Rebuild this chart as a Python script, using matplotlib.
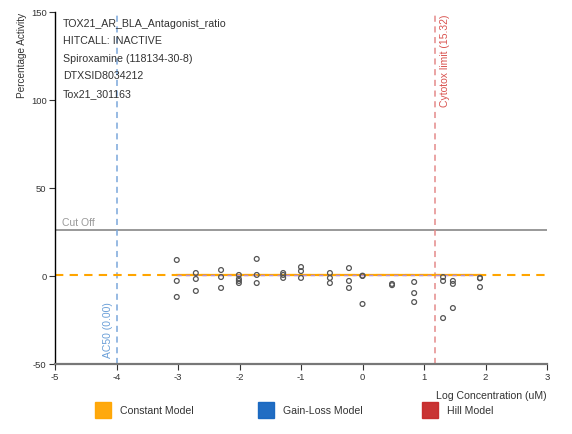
import matplotlib
matplotlib.use("Agg")
import matplotlib.pyplot as plt
from matplotlib.patches import Rectangle
import numpy as np

plt.rcParams['font.family'] = ['Liberation Sans', 'DejaVu Sans']
plt.rcParams['axes.unicode_minus'] = False

# ---- data ----
log_conc_groups = [-3.02, -2.71, -2.30, -2.01, -1.72, -1.29, -1.00, -0.53,
                   -0.22, 0.00, 0.48, 0.84, 1.31, 1.47, 1.91]
response_groups = [
    [9.1, -2.8, -11.9],
    [1.7, -1.7, -8.5],
    [3.4, -0.6, -6.8],
    [0.6, -1.7, -2.8, -4.0],
    [9.7, 0.6, -4.0],
    [1.7, 0.6, -1.1],
    [5.1, 2.8, -1.1],
    [1.7, -1.1, -4.0],
    [4.5, -2.8, -6.8],
    [0.2, 0.0, -15.9],
    [-4.5, -5.2],
    [-3.4, -9.7, -14.8],
    [-0.6, -2.8, -23.9],
    [-2.8, -4.5, -18.2],
    [-1.1, -1.3, -6.3],
]
constant_value = 0.4
cutoff_value = 26.3
ac50_log = -4.0
cytotox_uM = 15.32
x_ticks = [-5, -4, -3, -2, -1, 0, 1, 2, 3]
y_ticks = [-50, 0, 50, 100, 150]
info_lines = ["TOX21_AR_BLA_Antagonist_ratio", "HITCALL: INACTIVE",
              "Spiroxamine (118134-30-8)", "DTXSID8034212", "Tox21_301163"]
legend_labels = ["Constant Model", "Gain-Loss Model", "Hill Model"]
legend_colors = ["#FFA500", "#1565C0", "#C62828"]

xs = np.concatenate([[c] * len(r) for c, r in zip(log_conc_groups, response_groups)])
ys = np.concatenate([r for r in response_groups])

W, H = 572, 435
fig = plt.figure(figsize=(W / 100, H / 100), dpi=100)
ax = fig.add_axes([55 / W, 1 - 365 / H, (547 - 55) / W, (365 - 13) / H])
ax.set_xlim(-5, 3)
ax.set_ylim(-50, 150)

# constant model: dashed full width, solid over data range
ax.plot([-5, 3], [constant_value] * 2, color="#FFA500", lw=1.5, ls=(0, (4, 3)), zorder=2)
ax.plot([min(log_conc_groups), max(log_conc_groups)], [constant_value] * 2,
        color="#FFA500", lw=1.6, zorder=3)
ax.plot([min(log_conc_groups), max(log_conc_groups)], [constant_value] * 2,
        color="#B58FD6", lw=1.0, ls=(0, (3, 3)), zorder=4)

# cutoff
ax.axhline(cutoff_value, color="#888888", lw=1.2, zorder=1)
ax.text(-4.88, cutoff_value + 1.5, "Cut Off", color="#999999", fontsize=7.5,
        ha="left", va="bottom")

# AC50
ax.axvline(ac50_log, color="#7AA7DB", lw=1.1, ls=(0, (4, 3)), zorder=1)
ax.text(ac50_log - 0.05, -46, "AC50 (0.00)", color="#6A9FD8", fontsize=7.5,
        rotation=90, ha="right", va="bottom")

# cytotox
cyt = np.log10(cytotox_uM)
ax.axvline(cyt, color="#E48A8A", lw=1.1, ls=(0, (4, 3)), zorder=1)
ax.text(cyt + 0.08, 149, "Cytotox limit (%.2f)" % cytotox_uM, color="#D9534F",
        fontsize=7.5, rotation=90, ha="left", va="top")

# points
ax.scatter(xs, ys, s=12, facecolors="none", edgecolors="#555555", linewidths=0.9, zorder=5)

# info text
for i, t in enumerate(info_lines):
    ax.text(0.016, 0.983 - i * 0.0497, t, transform=ax.transAxes, fontsize=7.7,
            color="#333333", ha="left", va="top")

# axes styling
for s in ["top", "right"]:
    ax.spines[s].set_visible(False)
ax.spines["left"].set_color("black")
ax.spines["left"].set_linewidth(1.0)
ax.spines["bottom"].set_color("#777777")
ax.spines["bottom"].set_linewidth(1.6)
ax.set_xticks(x_ticks)
ax.set_yticks(y_ticks)
ax.tick_params(axis="both", labelsize=6.8, colors="#333333", length=4, width=0.8, pad=2)
ax.set_xlabel("Log Concentration (uM)", fontsize=7.6, color="#333333", loc="right", labelpad=6)
ax.set_ylabel("Percentage Activity", fontsize=7.2, color="#333333", loc="top", labelpad=3)

# legend
sq = 16
for lx, lab, col in zip([95, 258, 422], legend_labels, legend_colors):
    fig.add_artist(Rectangle((lx / W, 1 - 419 / H), sq / W, sq / H,
                             transform=fig.transFigure, facecolor=col,
                             edgecolor=col, alpha=0.95))
    fig.text((lx + 25) / W, 1 - 411.5 / H, lab, fontsize=7.6, color="#333333",
             ha="left", va="center")

fig.savefig("out.png", dpi=100)
